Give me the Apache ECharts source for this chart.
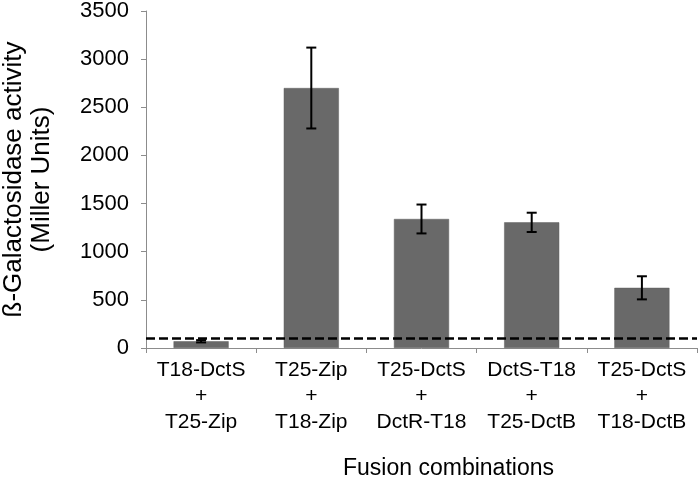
<!DOCTYPE html>
<html>
<head>
<meta charset="utf-8">
<script src="https://cdn.jsdelivr.net/npm/echarts@6/dist/echarts.min.js"></script>
<style>html,body{margin:0;padding:0;background:#fff;}#c{width:700px;height:478px;}</style>
</head>
<body>
<div id="c"></div>
<script>
var categories = ["T18-DctS\n+\nT25-Zip", "T25-Zip\n+\nT18-Zip", "T25-DctS\n+\nDctR-T18", "DctS-T18\n+\nT25-DctB", "T25-DctS\n+\nT18-DctB"];
var means = [70, 2700, 1340, 1305, 625];
var errors = [12, 420, 150, 100, 120];
var threshold = 100;
var yTicks = {min: 0, max: 3500, interval: 500};

var errData = means.map(function (m, i) { return [i, m - errors[i], m + errors[i]]; });

var chart = echarts.init(document.getElementById('c'));
var font = 'Liberation Sans, Arial, sans-serif';
chart.setOption({
  animation: false,
  grid: {left: 146, right: 3, top: 11, bottom: 130, outerBoundsMode: 'none', containLabel: false},
  xAxis: {
    type: 'category',
    data: categories,
    name: 'Fusion combinations',
    nameLocation: 'middle',
    nameGap: 109,
    nameTextStyle: {fontSize: 23, color: '#000', fontFamily: font, padding: [0, 0, 0, 54]},
    axisLine: {lineStyle: {color: '#8c8c8c', width: 1}},
    axisTick: {show: true, length: 5, lineStyle: {color: '#8c8c8c'}},
    axisLabel: {fontSize: 21, lineHeight: 26, color: '#000', fontFamily: font, margin: 9, interval: 0}
  },
  yAxis: {
    type: 'value',
    min: yTicks.min, max: yTicks.max, interval: yTicks.interval,
    name: 'ß-Galactosidase activity\n(Miller Units)',
    nameLocation: 'middle',
    nameRotate: 90,
    nameGap: 90,
    nameTextStyle: {fontSize: 26, lineHeight: 28, color: '#000', fontFamily: font},
    splitLine: {show: false},
    axisLine: {show: true, lineStyle: {color: '#8c8c8c', width: 1}},
    axisTick: {show: true, length: 5, lineStyle: {color: '#8c8c8c'}},
    axisLabel: {fontSize: 22, color: '#000', fontFamily: font, margin: 17, formatter: function (v) { return String(v); }}
  },
  series: [
    {
      type: 'bar',
      data: means,
      barWidth: '50%',
      itemStyle: {color: '#696969', borderColor: '#5e5e5e', borderWidth: 0.5},
      markLine: {
        silent: true,
        symbol: ['none', 'none'],
        label: {show: false},
        lineStyle: {color: '#000', type: [9, 4], width: 2.5},
        data: [{yAxis: threshold}]
      }
    },
    {
      type: 'custom',
      data: errData,
      z: 10,
      renderItem: function (params, api) {
        var x = api.value(0);
        var lo = api.coord([x, api.value(1)]);
        var hi = api.coord([x, api.value(2)]);
        var hw = 5;
        var st = {stroke: '#000', lineWidth: 2};
        return {
          type: 'group',
          children: [
            {type: 'line', shape: {x1: hi[0], y1: hi[1], x2: lo[0], y2: lo[1]}, style: st},
            {type: 'line', shape: {x1: hi[0] - hw, y1: hi[1], x2: hi[0] + hw, y2: hi[1]}, style: st},
            {type: 'line', shape: {x1: lo[0] - hw, y1: lo[1], x2: lo[0] + hw, y2: lo[1]}, style: st}
          ]
        };
      }
    }
  ]
});
</script>
</body>
</html>
